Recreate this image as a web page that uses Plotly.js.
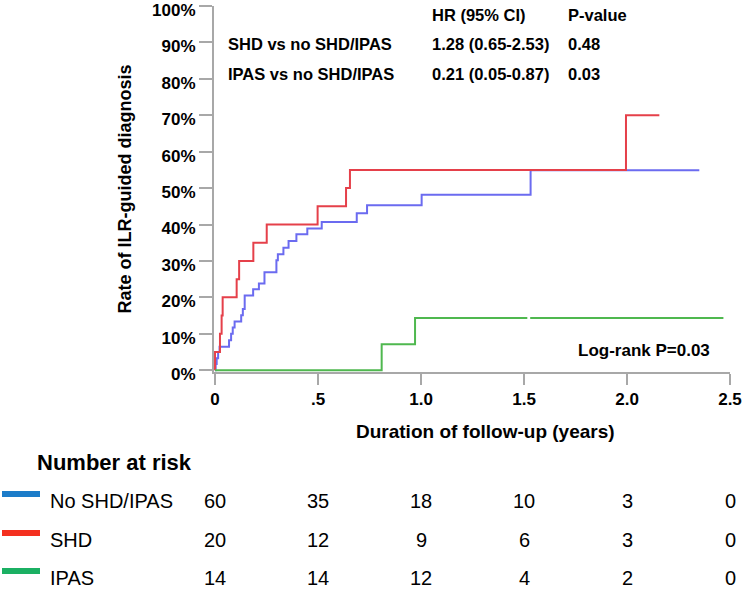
<!DOCTYPE html>
<html>
<head>
<meta charset="utf-8">
<script src="https://cdn.plot.ly/plotly-3.0.1.min.js"></script>
<style>html,body{margin:0;padding:0;background:#fff}#chart{width:742px;height:590px}</style>
</head>
<body>
<div id="chart"></div>
<script>
// ---- data (rates in %) ----
const noShdTimes = [0, 0.003, 0.008, 0.015, 0.022, 0.068, 0.078, 0.086, 0.095, 0.127, 0.135, 0.144, 0.185, 0.213, 0.240, 0.298, 0.305, 0.332, 0.357, 0.395, 0.448, 0.518, 0.688, 0.738, 1.003, 1.532, 2.351];
const noShdRates = [0, 1.7, 3.3, 5.0, 6.4, 8.2, 10.0, 11.7, 13.4, 15.1, 16.8, 20.5, 22.2, 23.8, 26.9, 30.2, 31.8, 33.6, 35.5, 37.3, 38.9, 40.7, 43.1, 45.3, 48.2, 54.9, 54.9];
const shdTimes = [0, 0, 0.024, 0.032, 0.037, 0.105, 0.117, 0.186, 0.251, 0.498, 0.636, 0.655, 1.995, 2.157];
const shdRates = [0, 5, 10, 15, 20, 25, 30, 35, 40, 45, 50, 55, 70, 70];
const ipasTimes = [0, 0.809, 0.971, 2.468];
const ipasRates = [0, 7.14, 14.3, 14.3];

const groupNames = ["No SHD/IPAS", "SHD", "IPAS"];
const riskTimes = [0, 0.5, 1.0, 1.5, 2.0, 2.5];
const riskNoShd = [60, 35, 18, 10, 3, 0];
const riskShd = [20, 12, 9, 6, 3, 0];
const riskIpas = [14, 14, 12, 4, 2, 0];

const xTickVals = [0, 0.5, 1.0, 1.5, 2.0, 2.5];
const xTickText = ["0", ".5", "1.0", "1.5", "2.0", "2.5"];
const yTickVals = [0, 10, 20, 30, 40, 50, 60, 70, 80, 90, 100];
const yTickText = ["0%", "10%", "20%", "30%", "40%", "50%", "60%", "70%", "80%", "90%", "100%"];

const statHeader = ["HR (95% CI)", "P-value"];
const statRows = ["SHD vs no SHD/IPAS", "IPAS vs no SHD/IPAS"];
const statHR = ["1.28 (0.65-2.53)", "0.21 (0.05-0.87)"];
const statP = ["0.48", "0.03"];
const logRankText = "Log-rank P=0.03";

// ---- styling ----
const lineColors = ["#6b6bf0", "#e5404a", "#4fb84f"];
const barColors = ["#1c7cc9", "#f4301f", "#1bb063"];
const axisGray = "#a8a8a8";
const FONT = "Arial, 'Liberation Sans', sans-serif";

// pixel -> paper helpers (plot area: left 214, width 516, bottom 372, height 366)
const PL = 214, PW = 516, PB = 372, PH = 366;
const px = x => (x - PL) / PW;
const py = y => (PB - y) / PH;

const traces = [
  {x: noShdTimes, y: noShdRates, name: groupNames[0]},
  {x: shdTimes, y: shdRates, name: groupNames[1]},
  {x: ipasTimes, y: ipasRates, name: groupNames[2]}
].map((t, i) => ({
  x: t.x, y: t.y, name: t.name, type: "scatter", mode: "lines",
  line: {shape: "hv", color: lineColors[i], width: 2},
  hoverinfo: "skip", showlegend: false
}));

const ann = [];
const bold = {family: FONT, size: 16.5, color: "#000", weight: "bold"};
// stats table
const colX = [226, 430, 566];
const rowY = [15, 44, 74];
ann.push({text: statHeader[0], x: px(colX[1]), y: py(rowY[0])});
ann.push({text: statHeader[1], x: px(colX[2]), y: py(rowY[0])});
statRows.forEach((r, i) => {
  ann.push({text: r, x: px(colX[0]), y: py(rowY[i + 1])});
  ann.push({text: statHR[i], x: px(colX[1]), y: py(rowY[i + 1])});
  ann.push({text: statP[i], x: px(colX[2]), y: py(rowY[i + 1])});
});
ann.forEach(a => Object.assign(a, {xref: "paper", yref: "paper", xanchor: "left", yanchor: "middle", showarrow: false, font: bold}));

ann.push({text: logRankText, xref: "paper", yref: "paper", x: px(712), y: py(350), xanchor: "right", yanchor: "middle", showarrow: false, font: Object.assign({}, bold, {size: 17})});

// x-axis title
ann.push({text: "Duration of follow-up (years)", xref: "paper", yref: "paper", x: px(485), y: py(431), xanchor: "center", yanchor: "middle", showarrow: false, font: {family: FONT, size: 19, color: "#000", weight: "bold"}});

// risk table
ann.push({text: "Number at risk", xref: "paper", yref: "paper", x: px(35), y: py(462), xanchor: "left", yanchor: "middle", showarrow: false, font: {family: FONT, size: 22, color: "#000", weight: "bold"}});
const riskRowsY = [501, 540, 578];
const riskData = [riskNoShd, riskShd, riskIpas];
const shapes = [];
groupNames.forEach((g, i) => {
  ann.push({text: g, xref: "paper", yref: "paper", x: px(48), y: py(riskRowsY[i]), xanchor: "left", yanchor: "middle", showarrow: false, font: {family: FONT, size: 20, color: "#000"}});
  riskData[i].forEach((v, j) => {
    ann.push({text: String(v), xref: "x", yref: "paper", x: riskTimes[j], y: py(riskRowsY[i]), xanchor: "center", yanchor: "middle", showarrow: false, font: {family: FONT, size: 20, color: "#000"}});
  });
  shapes.push({type: "line", xref: "paper", yref: "paper", x0: px(2), x1: px(40), y0: py(riskRowsY[i] - 7), y1: py(riskRowsY[i] - 7), line: {color: barColors[i], width: 6}});
});
// small gap in the original figure near 1.52 years
shapes.push({type: "rect", xref: "x", yref: "y", x0: 1.516, x1: 1.530, y0: -1.5, y1: 16, fillcolor: "#fff", line: {width: 0}, layer: "above"});

const layout = {
  width: 742, height: 590,
  margin: {l: PL, r: 742 - PL - PW, t: PB - PH, b: 590 - PB},
  paper_bgcolor: "#fff", plot_bgcolor: "#fff",
  showlegend: false,
  xaxis: {
    range: [-0.005, 2.5], tickvals: xTickVals, ticktext: xTickText,
    ticks: "outside", ticklen: 11, tickwidth: 2, tickcolor: axisGray,
    showline: true, linecolor: axisGray, linewidth: 2,
    showgrid: false, zeroline: false, ticklabeloverflow: "allow",
    tickfont: {family: FONT, size: 17, color: "#000", weight: "bold"}
  },
  yaxis: {
    range: [-0.5, 100], tickvals: yTickVals, ticktext: yTickText,
    ticks: "outside", ticklen: 13, tickwidth: 2, tickcolor: axisGray,
    showline: true, linecolor: axisGray, linewidth: 2,
    showgrid: false, zeroline: false, ticklabeloverflow: "allow",
    ticklabelshift: 4,
    tickfont: {family: FONT, size: 17, color: "#000", weight: "bold"},
    title: {text: "Rate of ILR-guided diagnosis", standoff: 16, font: {family: FONT, size: 18, color: "#000", weight: "bold"}}
  },
  annotations: ann,
  shapes: shapes
};

Plotly.newPlot("chart", traces, layout, {displayModeBar: false, staticPlot: true});
</script>
</body>
</html>
